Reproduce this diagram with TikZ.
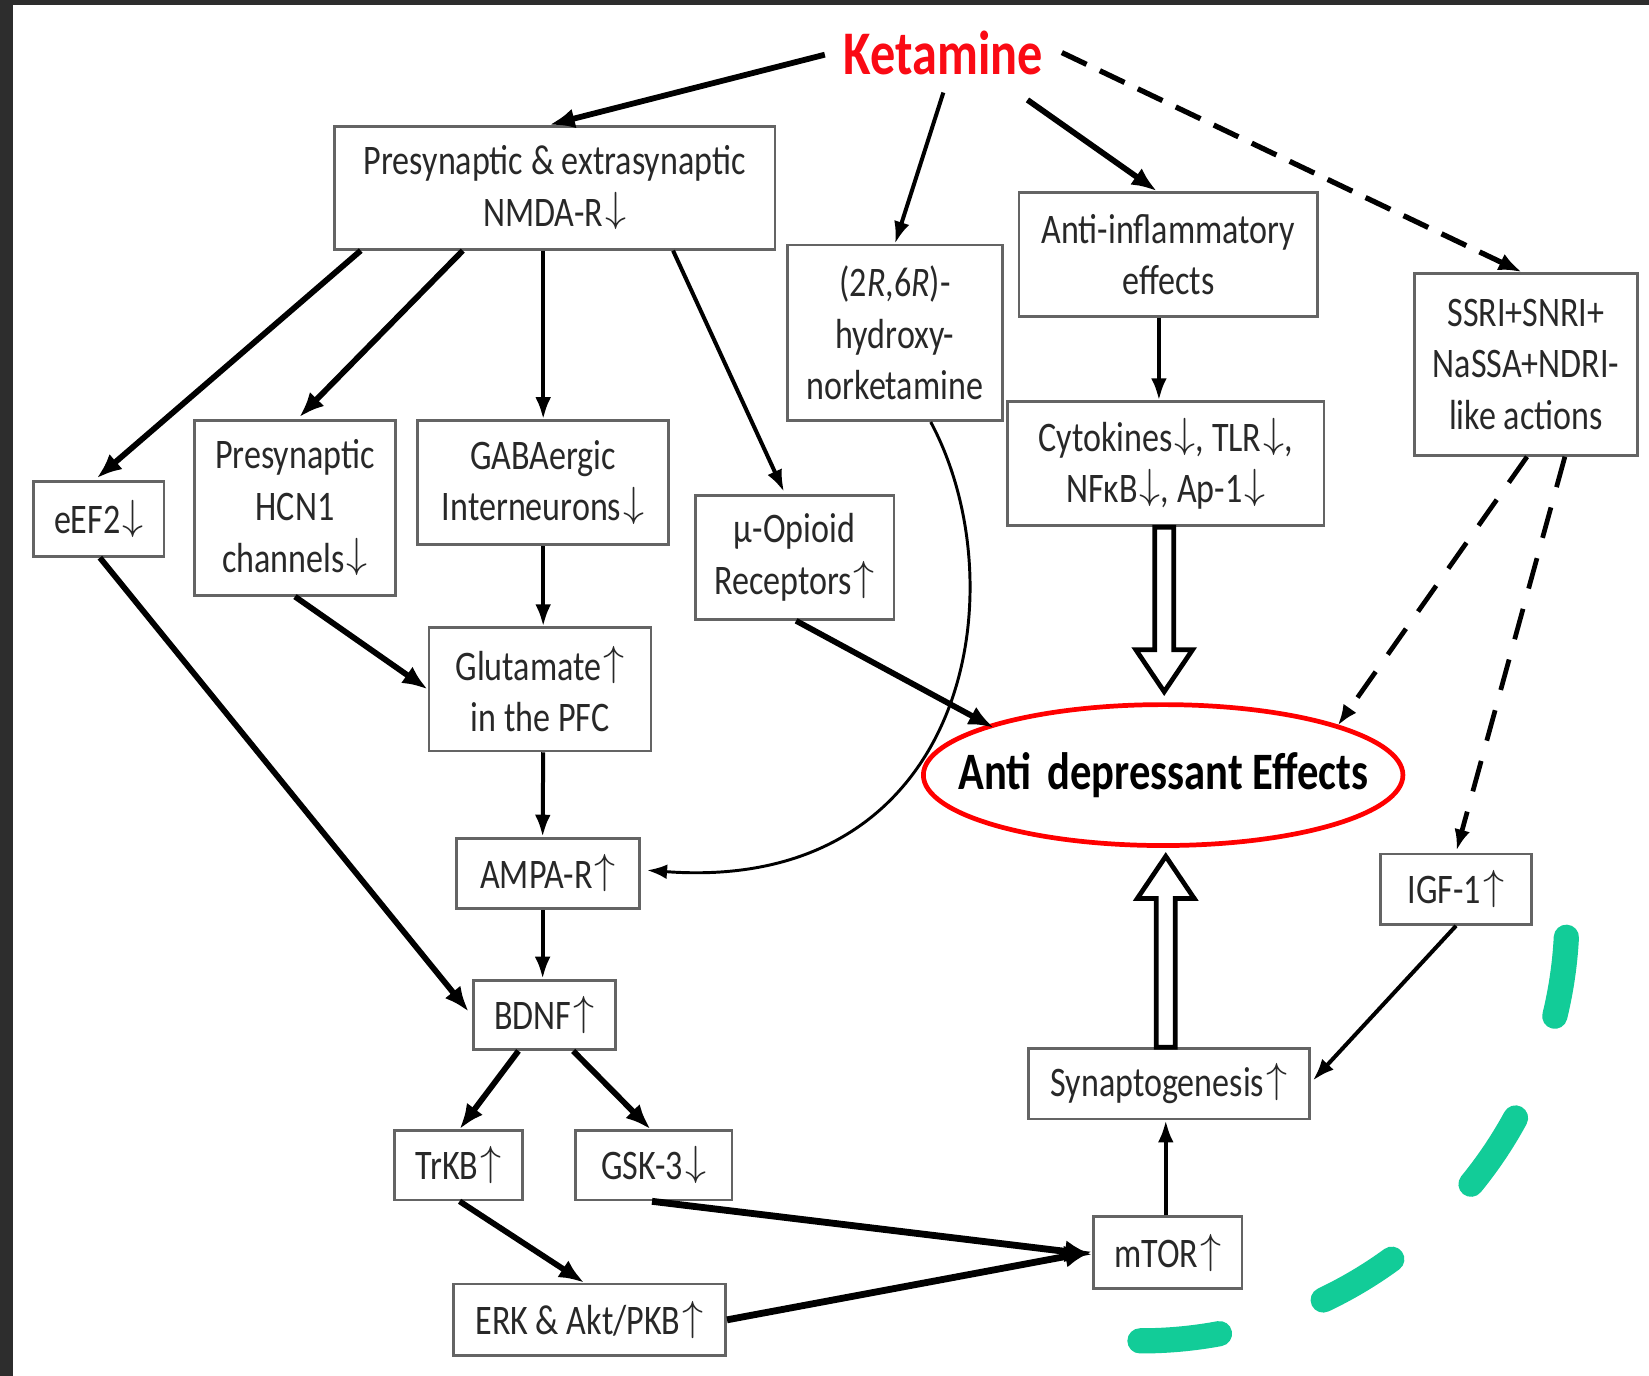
\RequirePackage{fix-cm}
\documentclass[tikz,border=0pt]{standalone}
\usepackage{fontspec}
\setmainfont{Carlito}[FakeStretch=0.81]
\usetikzlibrary{arrows.meta,shapes.geometric,calc}
\definecolor{boxgray}{RGB}{100,100,100}
\definecolor{txtgray}{RGB}{40,40,40}
\definecolor{ketred}{RGB}{250,10,20}
\definecolor{mygreen}{RGB}{18,204,152}
\definecolor{darkbg}{RGB}{45,45,45}
\newcommand{\myDown}{\kern2pt\raisebox{0.1em}{$\downarrow$}}
\newcommand{\myUp}{\kern2pt\raisebox{0.1em}{$\uparrow$}}
\newcommand{\myfat}[2]{\draw[fatarr] let \p1=#1, \p2=#2, \p3=($(\p2)!40pt!(\p1)$) in
  (\x1-9pt,\y1) -- (\x1-9pt,\y3) -- (\x1-27pt,\y3) -- (\x1,\y2)
  -- (\x1+27pt,\y3) -- (\x1+9pt,\y3) -- (\x1+9pt,\y1) -- cycle;}
\begin{document}
\begin{tikzpicture}[x=1pt,y=-1pt,
  bx/.style 2 args={draw=boxgray, line width=2.6pt, text=txtgray, align=center, inner sep=0pt,
     minimum width=#1pt, minimum height=#2pt, font=\fontsize{40}{49}\selectfont},
  arr/.style={line width=5.5pt, -{Latex[length=24pt,width=19pt]}},
  tarr/.style={line width=3.8pt, -{Latex[length=21pt,width=15pt]}},
  warr/.style={line width=6.5pt, -{Latex[length=26pt,width=21pt]}},
  darr/.style={line width=5pt, dash pattern=on 26pt off 14pt, -{Latex[length=22pt,width=17pt]}},
  sdarr/.style={line width=4.5pt, dash pattern=on 30pt off 20pt, -{Latex[length=20pt,width=15pt]}},
  fatarr/.style={line width=4.5pt, draw=black, fill=white, line join=miter},
]
\useasboundingbox (0,0) rectangle (1568,1308);
\fill[white] (0,0) rectangle (1568,1308);
\fill[darkbg] (0,0) rectangle (12,1308);
\fill[darkbg] (0,0) rectangle (1568,5);

\node[font=\fontsize{59}{70}\selectfont\bfseries, text=ketred, inner sep=0pt] (ket) at (897,50) {Ketamine};
\node[bx={419}{117}] (nmda) at (527.5,178.5) {Presynaptic \& extrasynaptic\\NMDA-R\myDown};
\node[bx={204}{167}] (hyd) at (851,316.5) {(2\textit{R},6\textit{R})-\\hydroxy-\\norketamine};
\node[bx={284}{118}] (anti) at (1111,242) {Anti-inflammatory\\effects};
\node[bx={212}{173}] (ssri) at (1451,346.5) {SSRI+SNRI+\\NaSSA+NDRI-\\like actions};
\node[bx={124}{71}] (eef) at (94,493.5) {eEF2\myDown};
\node[bx={191}{166}] (hcn) at (280.5,483) {Presynaptic\\HCN1\\channels\myDown};
\node[bx={239}{118}] (gaba) at (516.5,459) {GABAergic\\Interneurons\myDown};
\node[bx={189}{118}] (mu) at (755.5,530) {μ-Opioid\\Receptors\myUp};
\node[bx={301}{118}] (cyto) at (1108.5,441) {Cytokines\myDown, TLR\myDown,\\NFκB\myDown, Ap-1\myDown};
\node[bx={211}{117}] (glu) at (513.5,655.5) {Glutamate\myUp\\in the PFC};
\node[draw=red, line width=4.5pt, ellipse, minimum width=456pt, minimum height=134pt, inner sep=0pt,
      font=\fontsize{50}{60}\selectfont\bfseries] (eff) at (1106,737)
      {\makebox[0pt]{Anti\hspace{0.3em}depressant Effects}};
\node[bx={174}{67}] (ampa) at (521,830.5) {AMPA-R\myUp};
\node[bx={143}{67}] (igf) at (1384.5,845.5) {IGF-1\myUp};
\node[bx={135}{66}] (bdnf) at (517.5,965) {BDNF\myUp};
\node[bx={267}{67}] (syn) at (1111.5,1030.5) {Synaptogenesis\myUp};
\node[bx={122}{66}] (trkb) at (436,1108) {TrKB\myUp};
\node[bx={149}{66}] (gsk) at (621.5,1108) {GSK-3\myDown};
\node[bx={141}{68}] (mtor) at (1110.5,1191) {mTOR\myUp};
\node[bx={259}{68}] (erk) at (560.5,1255) {ERK \& Akt/PKB\myUp};

\draw[arr] ($(ket.west)+(-18,2)$) -- ($(nmda.north)+(-5,0)$);
\draw[tarr] ($(ket.center)+(0,38)$) -- (hyd.north);
\draw[arr] ($(ket.center)+(80,45)$) -- ($(anti.north)+(-11,0)$);
\draw[darr] ($(ket.east)+(18,0)$) -- ($(ssri.north)+(-4,0)$);
\draw[arr] ($(nmda.south)+(-184.5,0)$) -- ($(eef.north)+(-2,-2)$);
\draw[arr] ($(nmda.south)+(-87.5,0)$) -- ($(hcn.north)+(4,-2)$);
\draw[tarr] ($(nmda.south)+(-11,0)$) -- (gaba.north);
\draw[tarr] ($(nmda.south)+(112.5,0)$) -- ($(mu.north)+(-10,-2)$);
\draw[line width=2.8pt, -{Latex[length=19pt,width=14pt]}] ($(hyd.south)+(34,0)$) .. controls (970,560) and (920,850) .. ($(ampa.east)+(6,-3)$);
\draw[tarr] ($(anti.south)+(-9,0)$) -- ($(cyto.north)+(-6.5,0)$);
\myfat{($(cyto.south)+(-1.5,0)$)}{($(eff.north)+(1,-10)$)}
\draw[sdarr] ($(ssri.south)+(1,0)$) -- ($(eff.center)+(166,-47)$);
\draw[sdarr] ($(ssri.south)+(37,0)$) -- ($(igf.north)+(0.5,-2)$);
\draw[arr] ($(eef.south)+(1,0)$) -- ($(bdnf.west)+(-3,-3)$);
\draw[arr] (hcn.south) -- (glu.west);
\draw[tarr] (gaba.south) -- ($(glu.north)+(3,0)$);
\draw[arr] ($(mu.south)+(1.5,0)$) -- ($(eff.center)+(-161,-45)$);
\draw[tarr] ($(glu.south)+(3,0)$) -- ($(ampa.north)+(-5,0)$);
\draw[tarr] ($(ampa.south)+(-5,0)$) -- ($(bdnf.north)+(-1.5,0)$);
\draw[arr] ($(bdnf.south)+(-24.5,0)$) -- ($(trkb.north)+(1,0)$);
\draw[arr] ($(bdnf.south)+(27.5,0)$) -- ($(gsk.north)+(-3,0)$);
\draw[arr] ($(trkb.south)+(1,0)$) -- ($(erk.north)+(-5,0)$);
\draw[warr] ($(gsk.south)+(-1.5,0)$) -- ($(mtor.west)+(0,2)$);
\draw[warr] (erk.east) -- ($(mtor.west)+(0,-1)$);
\draw[tarr] ($(mtor.north)+(-2,0)$) -- ($(syn.south)+(-3,0)$);
\myfat{($(syn.north)+(-3,0)$)}{($(eff.south)+(2,8)$)}
\draw[tarr] (igf.south) -- ($(syn.east)+(2,-3)$);

\draw[mygreen, line width=24pt, line cap=round, dash pattern=on 76pt off 104pt]
  (1489.4,891.2) arc[start angle=3, end angle=90.5, radius=405];
\end{tikzpicture}
\end{document}
